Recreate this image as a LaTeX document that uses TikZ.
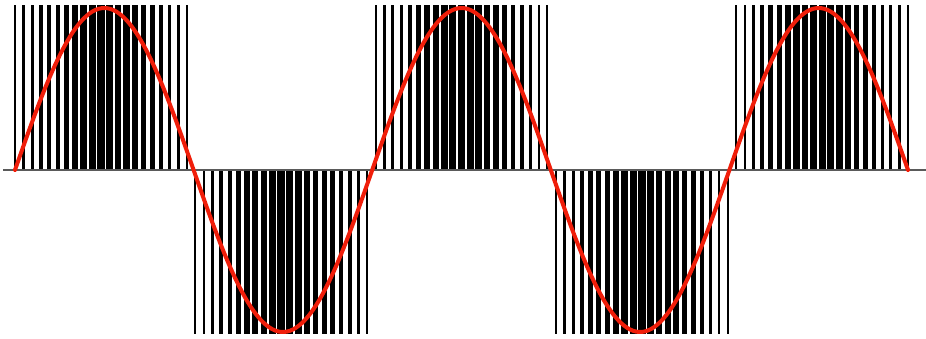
\documentclass[tikz,border=0pt]{standalone}
\usepackage{tikz}
\definecolor{wave}{RGB}{240,30,10}
\definecolor{axisgray}{RGB}{90,90,90}
\tikzset{
  pulse/.style={fill=black},
  axisline/.style={draw=axisgray, line width=1.5pt},
  sinewave/.style={draw=wave, line width=4pt, line cap=round}
}
\begin{document}
\begin{tikzpicture}[x=1pt,y=-1pt]
\useasboundingbox (0,0) rectangle (926,338);
\fill[white] (0,0) rectangle (926,338);
\foreach \k in {0,...,104}{
  \pgfmathsetmacro\xx{15+\k*8.587}
  \pgfmathsetmacro\ph{(\xx-15)/178.6*180}
  \pgfmathsetmacro\s{sin(\ph)}
  \pgfmathsetmacro\t{mod(\ph,180)}
  \pgfmathsetmacro\tri{max(0,1-abs(\t-90)/90)}
  \pgfmathsetmacro\w{1.6+5.9*(0.3*abs(\s)+0.7*\tri)}
  \pgfmathparse{\s<-0.02 ? 1 : 0}
  \ifnum\pgfmathresult=1
    \fill[pulse] ({\xx-\w/2},170) rectangle ({\xx+\w/2},334);
  \else
    \fill[pulse] ({\xx-\w/2},5) rectangle ({\xx+\w/2},170);
  \fi
}
\draw[axisline] (3,170) -- (926,170);
\draw[sinewave] plot[domain=15:908, samples=300, smooth] (\x,{170-162*sin((\x-15)/178.6*180)});
\end{tikzpicture}
\end{document}
